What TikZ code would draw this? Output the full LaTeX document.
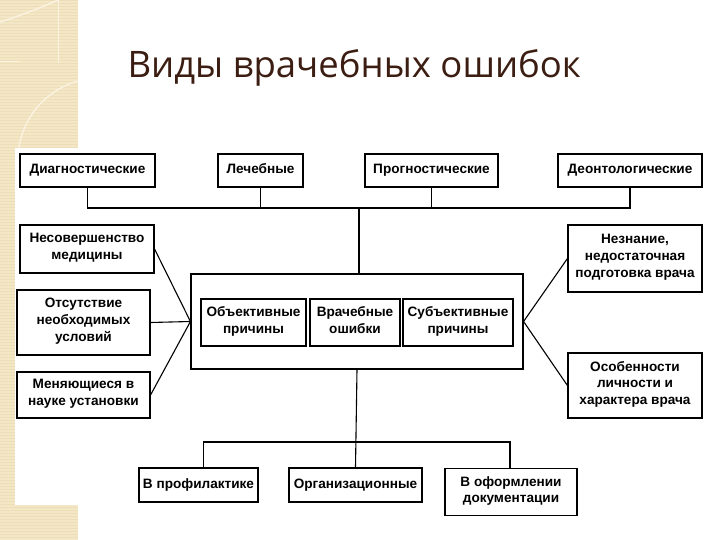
\documentclass[tikz,border=0pt]{standalone}
\usepackage{fontspec}
\setmainfont{Liberation Sans}
\newfontfamily\titlefont{Open Sans}
\usetikzlibrary{positioning}
\definecolor{stripbeige}{HTML}{F4E7C6}
\definecolor{stripdark}{HTML}{EDDDB8}
\definecolor{stripline}{HTML}{FAF3E1}
\definecolor{titlebrown}{HTML}{3B1D12}
\tikzset{
  errbox/.style={draw, line width=1.1pt, align=center, inner sep=1pt,
    font=\fontsize{13.6}{16.8}\selectfont\bfseries,
    execute at begin node=\strut, execute at end node=\strut},
  link/.style={line width=1.1pt},
}

\begin{document}
\begin{tikzpicture}[x=1pt, y=-1pt]
  \useasboundingbox (0,0) rectangle (720,540);
  % decorative strip on the left
  \fill[stripbeige] (0,0) rectangle (78,540);
  \begin{scope}
    \clip (0,0) rectangle (78,540);
    \foreach \yy in {0,3,...,540}
      \draw[stripdark, line width=0.5pt] (0,\yy) -- (78,\yy);
    \draw[stripline, line width=1.4pt] (100,160) circle (82pt);
    \draw[stripline, line width=1.4pt] (0,22) .. controls (25,14) and (45,6) .. (58,0);
    \draw[stripline, line width=1pt] (58,0) -- (58,63) (0,62) -- (20,62);
  \end{scope}
  \fill[white] (15,148) rectangle (720,505);

  \node[anchor=base west, text=titlebrown, font=\titlefont\fontsize{36.5}{42}\selectfont]
    (title) at (124,78) {Виды врачебных ошибок};

  % top row
  \foreach \nm/\xx/\ww/\lbl in {diag/87.5/135/Диагностические, lech/260.5/85/Лечебные,
      progn/431.5/133/Прогностические, deont/630/144/Деонтологические}
    \node[errbox, minimum width=\ww pt, minimum height=33pt] (\nm) at (\xx,170.5) {\lbl};

  % centre
  \node[draw, line width=1.1pt, minimum width=332pt, minimum height=95pt] (main) at (357,321.5) {};
  \node[errbox, minimum width=105pt, minimum height=47pt] (objekt) at (253.5,322.5) {Объективные\\причины};
  \node[errbox, minimum width=90pt, minimum height=47pt] (vrach) at (355,322.5) {Врачебные\\ошибки};
  \node[errbox, minimum width=110pt, minimum height=47pt] (subjekt) at (458,322.5) {Субъективные\\причины};

  % left and right causes
  \node[errbox, minimum width=134pt, minimum height=48pt] (nesov) at (87,249) {Несовершенство\\медицины};
  \node[errbox, minimum width=133pt, minimum height=65pt] (otsut) at (83.5,322.5) {Отсутствие\\необходимых\\условий};
  \node[errbox, minimum width=133pt, minimum height=46pt] (menya) at (83.5,395) {Меняющиеся в\\науке установки};
  \node[errbox, minimum width=134pt, minimum height=67pt] (neznan) at (635,258.5) {Незнание,\\недостаточная\\подготовка врача};
  \node[errbox, minimum width=134pt, minimum height=65pt] (osob) at (635,385.5) {Особенности\\личности и\\характера врача};

  % bottom row
  \node[errbox, minimum width=119pt, minimum height=34pt] (profil) at (198.5,485) {В профилактике};
  \node[errbox, minimum width=133pt, minimum height=34pt] (organ) at (355.5,485) {Организационные};
  \node[errbox, minimum width=132pt, minimum height=47pt, anchor=north] (oform) at (511,468) {В оформлении\\документации};

  % connectors
  \coordinate (topbus) at (359,208);
  \draw[link] (diag.south) |- (topbus) -| (deont.south);
  \foreach \nm in {lech,progn}
    \draw[link] (\nm.south) -- (\nm.south |- topbus);
  \draw[link] (topbus) -- (topbus |- main.north);
  \foreach \nm in {nesov,otsut,menya}
    \draw[link] (\nm.east) -- (main.west);
  \foreach \nm in {neznan,osob}
    \draw[link] (main.east) -- (\nm.west);
  \coordinate (botbus) at (357,442);
  \draw[link] (main.south) -- (organ.north);
  \draw[link] ([xshift=5pt]profil.north) |- (botbus) -| ([xshift=-1pt]oform.north);
\end{tikzpicture}
\end{document}
